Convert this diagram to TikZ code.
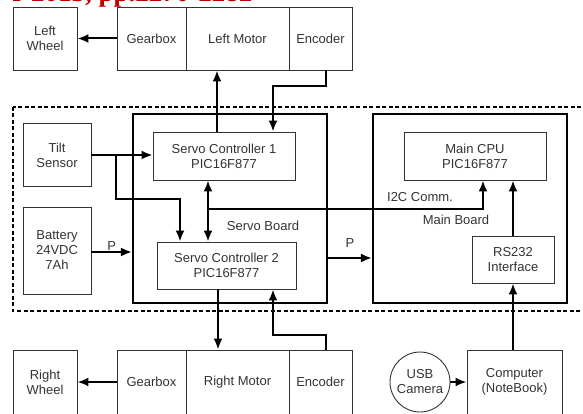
\documentclass[tikz,border=0pt]{standalone}
\usepackage{fontspec}
\setmainfont{Liberation Sans}
\newfontfamily\headfont{Liberation Serif}
\usetikzlibrary{arrows.meta}
\definecolor{boxgray}{HTML}{333333}
\definecolor{headred}{HTML}{C00000}
\begin{document}
\begin{tikzpicture}[x=1pt,y=-1pt,
    font=\fontsize{13}{15}\selectfont, text=boxgray,
    blk/.style={draw=boxgray,line width=0.9pt,inner sep=0pt,align=center},
    board/.style={draw=black,line width=2.2pt,inner sep=0pt},
    arr/.style={line width=2pt,-{Latex[length=11pt,width=9pt]}},
    arrs/.style={line width=2pt,{Latex[length=11pt,width=9pt]}-{Latex[length=11pt,width=9pt]}}]
    \useasboundingbox (0,0) rectangle (583,414);
    \clip (0,0) rectangle (583,414);
    \node[anchor=base east,text=headred,font=\headfont\bfseries\fontsize{27}{27}\selectfont] (hdr) at (256,2) {r 2013, pp.2270-2282};
    % outer frame
    \draw[line width=2pt,dash pattern=on 4pt off 2.5pt] (13,107) rectangle (600,311);
    % top row
    \node[blk,minimum width=64,minimum height=63] (lwheel) at (45,38.5) {Left\\Wheel};
    \node[blk,minimum width=69,minimum height=63] (lgear) at (151.5,38.5) {Gearbox};
    \node[blk,minimum width=103,minimum height=63] (lmotor) at (237.5,38.5) {Left Motor};
    \node[blk,minimum width=63,minimum height=63] (lenc) at (320.5,38.5) {Encoder};
    % boards
    \node[board,minimum width=194,minimum height=189] (servob) at (230,208.5) {};
    \node[board,minimum width=194,minimum height=189] (mainb) at (470,208.5) {};
    \node[blk,minimum width=68,minimum height=63] (tilt) at (57,155) {Tilt\\Sensor};
    \node[blk,minimum width=68,minimum height=87] (batt) at (57,250.5) {Battery\\24VDC\\7Ah};
    \node[blk,minimum width=142,minimum height=48] (sc1) at (224,156) {Servo Controller 1\\PIC16F877};
    \node[blk,minimum width=139,minimum height=47] (sc2) at (226.5,265.5) {Servo Controller 2\\PIC16F877};
    \node[blk,minimum width=142,minimum height=48] (cpu) at (475,156) {Main CPU\\PIC16F877};
    \node[blk,minimum width=82,minimum height=47] (rs) at (513,259.5) {RS232\\Interface};
    \node (sblabel) at (263,226) {Servo Board};
    \node (mblabel) at (456,220) {Main Board};
    \node (i2clabel) at (420,197) {I2C Comm.};
    % bottom row
    \node[blk,minimum width=64,minimum height=64] (rwheel) at (45,382) {Right\\Wheel};
    \node[blk,minimum width=69,minimum height=64] (rgear) at (151.5,382) {Gearbox};
    \node[blk,minimum width=103,minimum height=64] (rmotor) at (237.5,382) {Right Motor};
    \node[blk,minimum width=63,minimum height=64] (renc) at (320.5,382) {Encoder};
    \node[blk,circle,minimum size=60] (cam) at (420,382) {USB\\Camera};
    \node[blk,minimum width=95,minimum height=64] (comp) at (514.5,382) {Computer\\(NoteBook)};
    % guides
    \coordinate (lm) at (217,0);
    \coordinate (rm) at (218,0);
    \coordinate (enc) at (326,0);
    \coordinate (sin) at (273,0);
    \coordinate (tb) at (116,0);
    \coordinate (t2) at (180,0);
    \coordinate (bus) at (208,0);
    \coordinate (i2c) at (208,209);
    \coordinate (ci) at (483,0);
    % connectors
    \draw[arr] (lgear) -- (lwheel);
    \draw[arr] (rgear) -- (rwheel);
    \draw[arr] (sc1.north -| lm) -- (lmotor.south -| lm);
    \draw[arr] (lenc.south -| enc) -- ++(0,16) -| (sc1.north -| sin);
    \draw[arr] (sc2.south -| rm) -- (rmotor.north -| rm);
    \draw[arr] (renc.north -| enc) -- ++(0,-15) -| (sc2.south -| sin);
    \draw[arr] (tilt.east) -- (sc1.west |- tilt.east);
    \draw[arr] (tilt.east -| tb) -- ++(0,44) -| (sc2.north -| t2);
    \draw[arrs] (sc1.south -| bus) -- (sc2.north -| bus);
    \draw[arr] (i2c) -| (cpu.south -| ci);
    \draw[arr] (batt.east |- 0,252) -- node[above,inner sep=1pt] {P} (servob.west |- 0,252);
    \draw[arr] (servob.east |- 0,258) -- node[above=6pt] {P} (mainb.west |- 0,258);
    \draw[arr] (rs.north) -- (cpu.south -| rs.north);
    \draw[arr] (comp.north -| rs.south) -- (rs.south);
    \draw[arr] (cam.east) -- (comp.west |- cam.east);
\end{tikzpicture}
\end{document}
